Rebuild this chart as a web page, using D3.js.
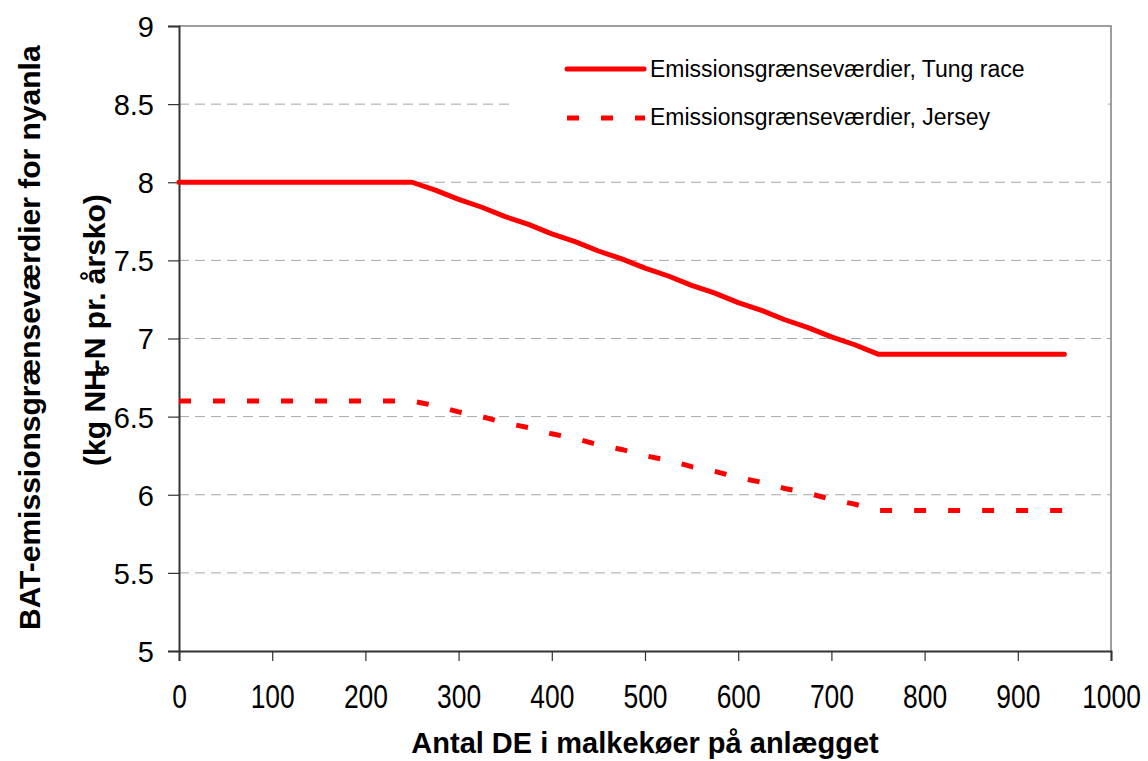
<!DOCTYPE html>
<html>
<head>
<meta charset="utf-8">
<script src="https://cdn.jsdelivr.net/npm/d3@7"></script>
<style>
  html, body { margin: 0; padding: 0; background: #fff; }
  svg { display: block; font-family: Arial, "Liberation Sans", sans-serif; }
</style>
</head>
<body>
<svg id="chart" width="1148" height="761"></svg>
<script>
// ---- data ----
const xValues = [0, 25, 50, 75, 100, 125, 150, 175, 200, 225, 250, 275, 300, 325, 350, 375, 400, 425, 450, 475, 500,
                 525, 550, 575, 600, 625, 650, 675, 700, 725, 750, 775, 800, 825, 850, 875, 900, 925, 950];
const tungRace = [8, 8, 8, 8, 8, 8, 8, 8, 8, 8, 8, 7.95, 7.89, 7.84, 7.78, 7.73, 7.67, 7.62, 7.56, 7.51, 7.45,
                  7.40, 7.34, 7.29, 7.23, 7.18, 7.12, 7.07, 7.01, 6.96, 6.90, 6.9, 6.9, 6.9, 6.9, 6.9, 6.9, 6.9, 6.9];
const jersey = [6.6, 6.6, 6.6, 6.6, 6.6, 6.6, 6.6, 6.6, 6.6, 6.6, 6.6, 6.57, 6.53, 6.50, 6.46, 6.43, 6.39, 6.36, 6.32, 6.29, 6.25,
                6.22, 6.18, 6.15, 6.11, 6.08, 6.04, 6.01, 5.97, 5.94, 5.90, 5.9, 5.9, 5.9, 5.9, 5.9, 5.9, 5.9, 5.9];
const xTicks = [0, 100, 200, 300, 400, 500, 600, 700, 800, 900, 1000];
const yTicks = [5, 5.5, 6, 6.5, 7, 7.5, 8, 8.5, 9];
const yTickLabels = ["5", "5.5", "6", "6.5", "7", "7.5", "8", "8.5", "9"];
const seriesNames = ["Emissionsgrænseværdier, Tung race", "Emissionsgrænseværdier, Jersey"];
const xTitle = "Antal DE i malkekøer på anlægget";
const yTitle1 = "BAT-emissionsgrænseværdier for nyanla";

// ---- layout ----
const svg = d3.select("#chart");
const L = 179, R = 1111, T = 26, B = 651;
const x = d3.scaleLinear().domain([0, 1000]).range([L, R]);
const y = d3.scaleLinear().domain([5, 9]).range([B, T]);
const red = "#ff0000";

// gridlines
svg.append("g").selectAll("line")
  .data(yTicks.filter(v => v > 5 && v < 9))
  .join("line")
  .attr("x1", L).attr("x2", R)
  .attr("y1", d => y(d)).attr("y2", d => y(d))
  .attr("stroke", "#a6a6a6").attr("stroke-width", 1)
  .attr("stroke-dasharray", "10,6");

// plot border (top, right)
svg.append("path")
  .attr("d", `M${L},${T}H${R}V${B}`)
  .attr("fill", "none").attr("stroke", "#808080").attr("stroke-width", 1.5);

// legend background (covers gridline)
svg.append("rect").attr("x", 512).attr("y", 42).attr("width", 596).attr("height", 100).attr("fill", "#fff");

// y axis
const yAxis = d3.axisLeft(y).tickValues(yTicks).tickFormat((d, i) => yTickLabels[i]).tickSize(11).tickPadding(14);
const gy = svg.append("g").attr("transform", `translate(${L},0)`).call(yAxis);
gy.select(".domain").attr("stroke", "#333").attr("stroke-width", 2);
gy.selectAll(".tick line").attr("stroke", "#333").attr("stroke-width", 1.2);
gy.selectAll(".tick text").attr("font-size", 29).attr("fill", "#000")
  .attr("font-family", "Arial, 'Liberation Sans', sans-serif").attr("dy", "0.36em");

// x axis
const xAxis = d3.axisBottom(x).tickValues(xTicks).tickFormat(d3.format("d")).tickSize(10).tickPadding(0);
const gx = svg.append("g").attr("transform", `translate(0,${B})`).call(xAxis);
gx.select(".domain").attr("stroke", "#333").attr("stroke-width", 2);
gx.selectAll(".tick line").attr("stroke", "#333").attr("stroke-width", 1.2);
gx.selectAll(".tick text").attr("font-size", 33).attr("fill", "#000")
  .attr("font-family", "Arial, 'Liberation Sans', sans-serif")
  .attr("y", 0).attr("dy", 0)
  .attr("transform", "translate(0,57) scale(0.8,1)");

// lines
const line = d3.line().x((d, i) => x(xValues[i])).y(d => y(d));
svg.append("path").datum(tungRace)
  .attr("d", line).attr("fill", "none").attr("stroke", red).attr("stroke-width", 5)
  .attr("stroke-linejoin", "round").attr("stroke-linecap", "round");
svg.append("path").datum(jersey)
  .attr("d", line).attr("fill", "none").attr("stroke", red).attr("stroke-width", 5)
  .attr("stroke-dasharray", "12,22").attr("stroke-linecap", "butt");

// legend
const lg = svg.append("g");
lg.append("line").attr("x1", 567).attr("x2", 644).attr("y1", 69).attr("y2", 69)
  .attr("stroke", red).attr("stroke-width", 5).attr("stroke-linecap", "round");
lg.append("line").attr("x1", 567).attr("x2", 645).attr("y1", 118).attr("y2", 118)
  .attr("stroke", red).attr("stroke-width", 5).attr("stroke-dasharray", "12,22");
lg.selectAll("text").data(seriesNames).join("text")
  .attr("x", 650).attr("y", (d, i) => 77 + i * 48)
  .attr("font-size", 23).attr("fill", "#000")
  .text(d => d);

// x title
svg.append("text").attr("x", (L + R) / 2).attr("y", 753)
  .attr("text-anchor", "middle").attr("font-size", 29).attr("font-weight", "bold")
  .text(xTitle);

// y title
svg.append("text")
  .attr("transform", "translate(40,630) rotate(-90)")
  .attr("font-size", 30).attr("font-weight", "bold")
  .text(yTitle1);
const t2 = svg.append("text")
  .attr("transform", "translate(105,330) rotate(-90)")
  .attr("text-anchor", "middle")
  .attr("font-size", 30).attr("font-weight", "bold");
t2.append("tspan").text("(kg NH");
t2.append("tspan").attr("font-size", 18).attr("dx", -6).attr("dy", 4).text("3");
t2.append("tspan").attr("dy", -4).attr("dx", -4).text("-N pr. årsko)");
</script>
</body>
</html>
